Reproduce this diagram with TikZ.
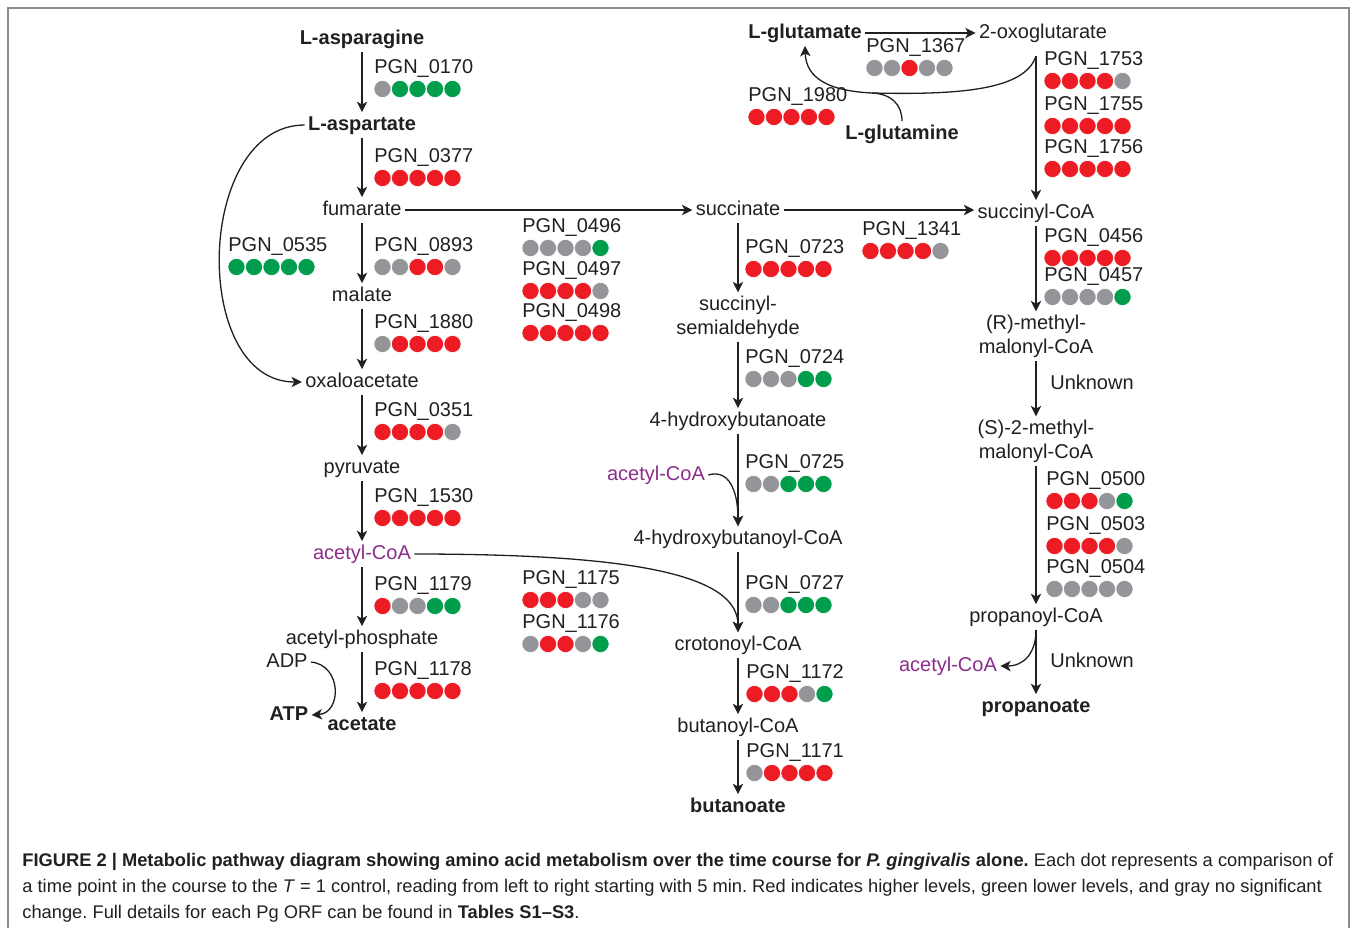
\documentclass[tikz,border=0pt]{standalone}
\usepackage{fontspec}
\setmainfont{Liberation Sans}
\newfontfamily\capfont[FakeStretch=1.0]{Liberation Sans}
\usetikzlibrary{arrows.meta,positioning}
\definecolor{hi}{RGB}{237,28,36}
\definecolor{lo}{RGB}{0,158,76}
\definecolor{ns}{RGB}{147,149,152}
\definecolor{acoa}{RGB}{140,45,140}
\definecolor{ink}{RGB}{35,31,32}
\definecolor{framegray}{RGB}{140,140,140}
\frenchspacing

% gene label with its row of five time-point dots
\newcommand{\gene}[4]{%
  \node[genelabel] (#1) at (#2) {#3};
  \foreach \c [count=\i from 0] in {#4}
    \fill[\c, draw=white, line width=0.3pt] ([xshift=\i*8.75pt+4.25pt, yshift=-10.5pt]#1.west) circle[radius=4.3pt];
}

\begin{document}
\begin{tikzpicture}[x=0.5pt, y=-0.5pt, font=\fontsize{10pt}{12pt}\selectfont]
\tikzset{metab/.style = {text=ink, inner sep=1.5pt, text height=7.5pt, text depth=2pt},
         keymetab/.style = {metab, font=\fontsize{10pt}{12pt}\selectfont\bfseries},
         cofactor/.style = {metab, text=acoa},
         twoline/.style = {text=ink, inner sep=1.5pt, align=center},
         genelabel/.style = {text=ink, anchor=west, inner sep=0pt, text height=7.2pt, text depth=1.5pt},
         rxn/.style = {draw=ink, line width=0.65pt, -{Stealth[length=5.2pt, width=5.2pt, inset=1.4pt]}},
         plain/.style = {draw=ink, line width=0.65pt},
         caption/.style = {anchor=base west, inner sep=0pt, text=ink, font=\capfont\fontsize{9.15pt}{11pt}\selectfont}}
\useasboundingbox (0,0) rectangle (1357,928);
\draw[framegray, line width=0.8pt] (8,928) -- (8,8) -- (1349,8) -- (1349,928);

% left column
\node[keymetab] (asn) at (362,39) {L-asparagine};
\node[keymetab] (asp) at (362,125) {L-aspartate};
\node[metab] (fum) at (362,210) {fumarate};
\node[metab] (mal) at (362,296) {malate};
\node[metab] (oaa) at (362,382) {oxaloacetate};
\node[metab] (pyr) at (362,468) {pyruvate};
\node[cofactor] (accoaA) at (362,554) {acetyl-CoA};
\node[metab] (acp) at (362,639) {acetyl-phosphate};
\node[keymetab] (ace) at (362,725) {acetate};
\node[metab] (adp) at (287,662) {ADP};
\node[keymetab] (atp) at (289,715) {ATP};

\gene{g0170}{374,68}{PGN\_0170}{ns,lo,lo,lo,lo}
\gene{g0377}{374,157}{PGN\_0377}{hi,hi,hi,hi,hi}
\gene{g0535}{228,246}{PGN\_0535}{lo,lo,lo,lo,lo}
\gene{g0893}{374,246}{PGN\_0893}{ns,ns,hi,hi,ns}
\gene{g1880}{374,323}{PGN\_1880}{ns,hi,hi,hi,hi}
\gene{g0351}{374,411}{PGN\_0351}{hi,hi,hi,hi,ns}
\gene{g1530}{374,497}{PGN\_1530}{hi,hi,hi,hi,hi}
\gene{g1179}{374,585}{PGN\_1179}{hi,ns,ns,lo,lo}
\gene{g1178}{374,670}{PGN\_1178}{hi,hi,hi,hi,hi}

\draw[rxn] (asn) -- (asp);
\draw[rxn] (asp) -- (fum);
\draw[rxn] (fum) -- (mal);
\draw[rxn] (mal) -- (oaa);
\draw[rxn] (oaa) -- (pyr);
\draw[rxn] (pyr) -- (accoaA);
\draw[rxn] (accoaA) -- (acp);
\draw[rxn] (acp) -- (ace);
\draw[rxn] (asp.west) .. controls (195,125) and (190,382) .. (oaa.west);
\draw[rxn] (adp.east) .. controls (342,665) and (342,713) .. (atp.east);

% middle genes
\gene{g0496}{522,227}{PGN\_0496}{ns,ns,ns,ns,lo}
\gene{g0497}{522,270}{PGN\_0497}{hi,hi,hi,hi,ns}
\gene{g0498}{522,312}{PGN\_0498}{hi,hi,hi,hi,hi}
\gene{g1175}{522,579}{PGN\_1175}{hi,hi,hi,ns,ns}
\gene{g1176}{522,623}{PGN\_1176}{ns,hi,hi,ns,lo}

% middle column
\node[metab] (suc) at (738,210) {succinate};
\node[twoline] (ssa) at (738,317) {succinyl-\\semialdehyde};
\node[metab] (hb) at (738,421) {4-hydroxybutanoate};
\node[cofactor] (accoaB) at (656,475) {acetyl-CoA};
\node[metab] (hbcoa) at (738,539) {4-hydroxybutanoyl-CoA};
\node[metab] (croto) at (738,645) {crotonoyl-CoA};
\node[metab] (bcoa) at (738,727) {butanoyl-CoA};
\node[keymetab] (but) at (738,807) {butanoate};

\gene{g0723}{745,248}{PGN\_0723}{hi,hi,hi,hi,hi}
\gene{g0724}{745,358}{PGN\_0724}{ns,ns,ns,lo,lo}
\gene{g0725}{745,463}{PGN\_0725}{ns,ns,lo,lo,lo}
\gene{g0727}{745,584}{PGN\_0727}{ns,ns,lo,lo,lo}
\gene{g1172}{746,673}{PGN\_1172}{hi,hi,hi,ns,lo}
\gene{g1171}{746,752}{PGN\_1171}{ns,hi,hi,hi,hi}

\draw[rxn] (fum) -- (suc);
\draw[rxn] (suc) -- (ssa);
\draw[rxn] (ssa) -- (hb);
\draw[rxn] (hb) -- (hbcoa);
\draw[rxn] (accoaB.east) .. controls (728,469) and (738,489) .. (hbcoa.north);
\draw[rxn] (hbcoa) -- (croto);
\draw[rxn] (accoaA.east) .. controls (640,554) and (738,576) .. (croto.north);
\draw[rxn] (croto) -- (bcoa);
\draw[rxn] (bcoa) -- (but);

% glutamate corner
\node[keymetab] (glu) at (805,33) {L-glutamate};
\node[metab] (oxo) at (1043,33) {2-oxoglutarate};
\node[keymetab] (gln) at (902,134) {L-glutamine};
\coordinate (oxofork) at (1036,56);
\coordinate (glnjoin) at (872,93);

\gene{g1367}{866,47}{PGN\_1367}{ns,ns,hi,ns,ns}
\gene{g1980}{748,96}{PGN\_1980}{hi,hi,hi,hi,hi}
\gene{g1753}{1044,60}{PGN\_1753}{hi,hi,hi,hi,ns}
\gene{g1755}{1044,105}{PGN\_1755}{hi,hi,hi,hi,hi}
\gene{g1756}{1044,148}{PGN\_1756}{hi,hi,hi,hi,hi}

\draw[rxn] (glu) -- (oxo);
\draw[rxn] (oxofork) .. controls (1025,90) and (960,95) .. (glnjoin)
  .. controls (830,91) and (806,79) .. (glu.south);
\draw[plain] (gln.north) .. controls (902,105) and (892,94) .. (glnjoin);

% right column
\node[metab] (sucoa) at (1036,213) {succinyl-CoA};
\node[twoline] (rmm) at (1036,336) {(R)-methyl-\\malonyl-CoA};
\node[metab] (unk1) at (1092,384) {Unknown};
\node[twoline] (smm) at (1036,441) {(S)-2-methyl-\\malonyl-CoA};
\node[metab] (prcoa) at (1036,617) {propanoyl-CoA};
\node[cofactor] (accoaC) at (948,666) {acetyl-CoA};
\node[metab] (unk2) at (1092,662) {Unknown};
\node[keymetab] (prop) at (1036,707) {propanoate};

\gene{g1341}{862,230}{PGN\_1341}{hi,hi,hi,hi,ns}
\gene{g0456}{1044,237}{PGN\_0456}{hi,hi,hi,hi,hi}
\gene{g0457}{1044,276}{PGN\_0457}{ns,ns,ns,ns,lo}
\gene{g0500}{1046,480}{PGN\_0500}{hi,hi,hi,ns,lo}
\gene{g0503}{1046,525}{PGN\_0503}{hi,hi,hi,hi,ns}
\gene{g0504}{1046,568}{PGN\_0504}{ns,ns,ns,ns,ns}

\draw[rxn] (oxofork) -- (sucoa);
\draw[rxn] (suc.east) -- (suc.east -| sucoa.west);
\draw[rxn] (sucoa) -- (rmm);
\draw[rxn] (rmm) -- (smm);
\draw[rxn] (smm) -- (prcoa);
\draw[rxn] (prcoa) -- (prop);
\draw[rxn] (prcoa.south) .. controls (1036,653) and (1024,666) .. (accoaC.east);

% caption
\node[caption] (cap1) at (22,866)
  {\textbf{FIGURE 2 | Metabolic pathway diagram showing amino acid metabolism over the time course for \textit{P. gingivalis} alone.} Each dot represents a comparison of};
\node[caption] (cap2) at (22,892)
  {a time point in the course to the \textit{T} = 1 control, reading from left to right starting with 5 min. Red indicates higher levels, green lower levels, and gray no significant};
\node[caption] (cap3) at (22,918)
  {change. Full details for each Pg ORF can be found in \textbf{Tables S1–S3}.};
\end{tikzpicture}
\end{document}
